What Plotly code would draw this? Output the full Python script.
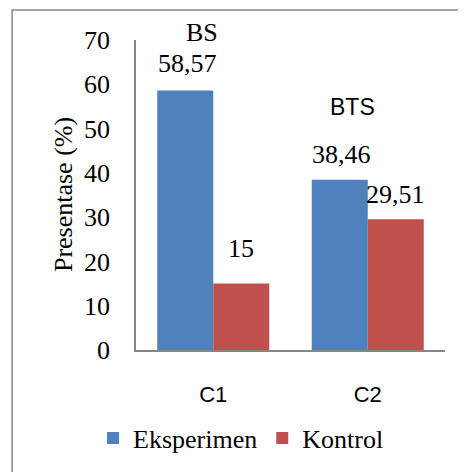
import plotly.graph_objects as go

categories = ["C1", "C2"]
series_names = ["Eksperimen", "Kontrol"]
eksperimen = [58.57, 38.46]
kontrol = [15, 29.51]
label_eks = ["58,57", "38,46"]
label_kon = ["15", "29,51"]
group_labels = ["BS", "BTS"]
y_ticks = [0, 10, 20, 30, 40, 50, 60, 70]

BLUE = "#4F81BD"
RED = "#C0504D"
GREY = "#868686"
SERIF = "Liberation Serif, Times New Roman, serif"
SANS = "Liberation Sans, Arial, sans-serif"

fig = go.Figure()
fig.add_trace(go.Bar(x=categories, y=eksperimen, name=series_names[0],
                     marker=dict(color=BLUE, line=dict(width=0))))
fig.add_trace(go.Bar(x=categories, y=kontrol, name=series_names[1],
                     marker=dict(color=RED, line=dict(width=0))))

annotations = []
bar_half = 28  # px offset of each bar centre from category centre
label_shift = [[27, 25], [35, 25]]
for i, c in enumerate(categories):
    annotations.append(dict(x=c, y=eksperimen[i], xref="x", yref="y", text=label_eks[i],
                            showarrow=False, xshift=-bar_half + 2, yshift=label_shift[0][i],
                            xanchor="center", yanchor="middle",
                            font=dict(family=SERIF, size=26, color="black")))
    annotations.append(dict(x=c, y=kontrol[i], xref="x", yref="y", text=label_kon[i],
                            showarrow=False, xshift=bar_half, yshift=label_shift[1][i],
                            xanchor="center", yanchor="middle",
                            font=dict(family=SERIF, size=26, color="black")))

annotations.append(dict(x=categories[0], y=1.023, xref="x", yref="paper", text=group_labels[0],
                        showarrow=False, xshift=-11, xanchor="center", yanchor="middle",
                        font=dict(family=SERIF, size=26, color="black")))
annotations.append(dict(x=categories[1], y=0.784, xref="x", yref="paper", text=group_labels[1],
                        showarrow=False, xshift=-15, xanchor="center", yanchor="middle",
                        font=dict(family=SANS, size=23, color="black")))
annotations.append(dict(x=-0.236, y=0.5, xref="paper", yref="paper", text="Presentase (%)",
                        textangle=-90, showarrow=False, xanchor="center", yanchor="middle",
                        font=dict(family=SERIF, size=26, color="black")))

shapes = [dict(type="rect", xref="paper", yref="paper",
               x0=-0.401, x1=1.3, y0=-0.6, y1=1.097,
               line=dict(color=GREY, width=1.5), fillcolor="rgba(0,0,0,0)", layer="below")]

fig.update_layout(
    width=458, height=464,
    margin=dict(l=128, r=21, t=32, b=122, autoexpand=False),
    paper_bgcolor="white", plot_bgcolor="white",
    barmode="group", bargap=0.275, bargroupgap=0,
    showlegend=True,
    legend=dict(orientation="h", x=0.34, xanchor="center", y=-0.284, yanchor="middle",
                font=dict(family=SERIF, size=26, color="black"),
                itemwidth=30, traceorder="normal"),
    annotations=annotations,
    shapes=shapes,
    xaxis=dict(showline=True, linecolor=GREY, linewidth=1.5, ticks="", showgrid=False,
               tickfont=dict(family=SANS, size=22, color="black"), ticklabelstandoff=24),
    yaxis=dict(range=[0, 70], tickvals=y_ticks, showline=True, linecolor=GREY, linewidth=1.5,
               ticks="", showgrid=False, zeroline=False,
               tickfont=dict(family=SERIF, size=26, color="black"), ticklabelstandoff=19),
)

fig.write_html("out.html")
